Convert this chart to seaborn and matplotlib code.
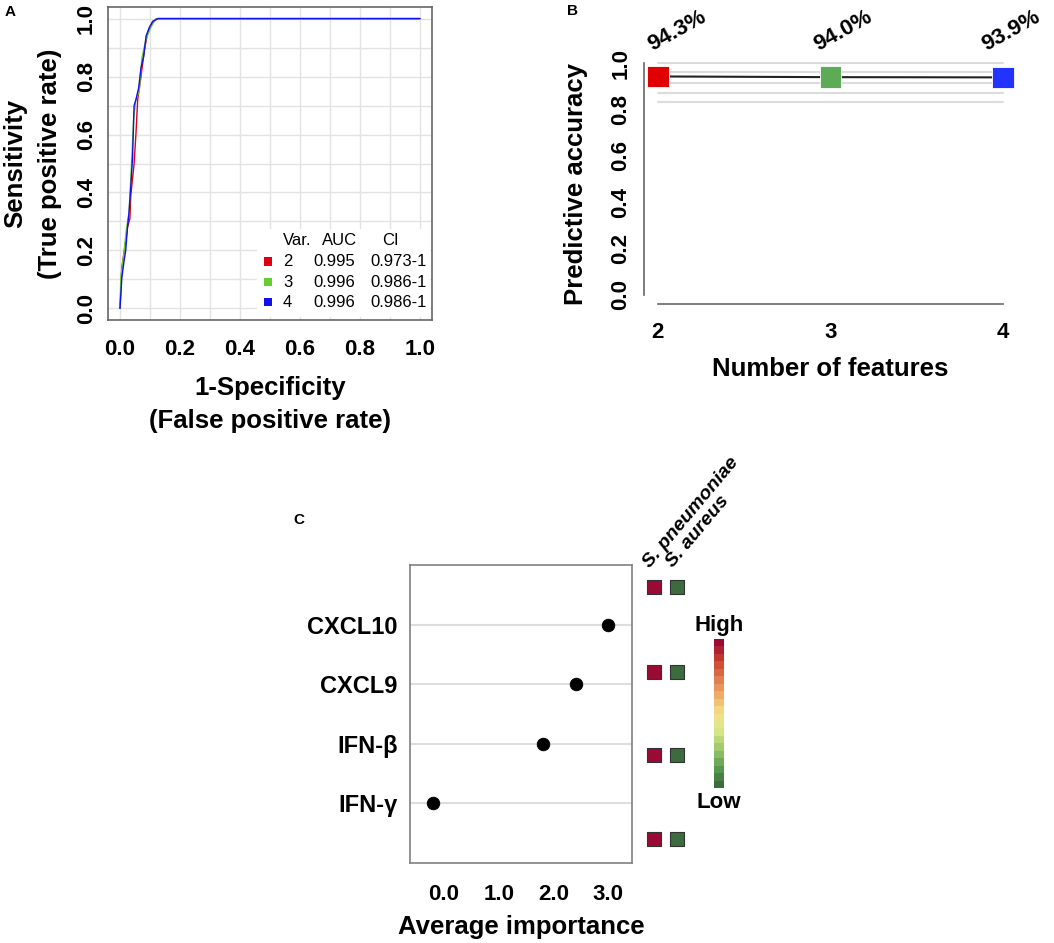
import numpy as np
import pandas as pd
import matplotlib
matplotlib.use("Agg")
import matplotlib.pyplot as plt
import seaborn as sns
from matplotlib.colors import LinearSegmentedColormap
from matplotlib.patches import Rectangle

# --- Panel A: ROC curves ---
roc_fpr_2 = [0.0, 0.006, 0.020, 0.025, 0.033, 0.036, 0.047, 0.053, 0.059, 0.070, 0.081, 0.092, 0.109, 0.126, 1.0]
roc_tpr_2 = [0.0, 0.140, 0.240, 0.280, 0.310, 0.390, 0.500, 0.600, 0.720, 0.800, 0.890, 0.950, 0.990, 1.000, 1.0]
roc_fpr_3 = [0.0, 0.003, 0.013, 0.021, 0.030, 0.038, 0.045, 0.053, 0.064, 0.073, 0.087, 0.103, 0.120, 1.0]
roc_tpr_3 = [0.0, 0.110, 0.190, 0.270, 0.330, 0.490, 0.650, 0.720, 0.750, 0.865, 0.930, 0.970, 1.000, 1.0]
roc_fpr_4 = [0.0, 0.006, 0.013, 0.019, 0.025, 0.030, 0.036, 0.042, 0.047, 0.053, 0.062, 0.070, 0.079, 0.087, 0.098, 0.109, 0.126, 1.0]
roc_tpr_4 = [0.0, 0.104, 0.160, 0.200, 0.280, 0.330, 0.420, 0.525, 0.700, 0.720, 0.760, 0.830, 0.870, 0.940, 0.970, 0.990, 1.000, 1.0]

leg_vars = ["2", "3", "4"]
leg_auc = ["0.995", "0.996", "0.996"]
leg_ci = ["0.973-1", "0.986-1", "0.986-1"]
roc_colors = ["#e00010", "#66cc33", "#1010ee"]

# --- Panel B: predictive accuracy ---
n_features = [2, 3, 4]
accuracy = [0.943, 0.940, 0.939]
acc_labels = ["94.3%", "94.0%", "93.9%"]
acc_band_lines = [1.0, 0.961, 0.913, 0.872, 0.831]
acc_colors = ["#e00000", "#5eab55", "#2233ff"]
label_dx = [-0.03, -0.07, -0.10]   # label nudges, as in the figure

# --- Panel C: feature importance + heatmap ---
markers = ["CXCL10", "CXCL9", "IFN-β", "IFN-γ"]
importance = [3.0, 2.41, 1.81, -0.2]
pathogens = ["S. pneumoniae", "S. aureus"]
hm_rows = [4.63, 3.20, 1.81, 0.40]
hm_values = [[1, 0], [1, 0], [1, 0], [1, 0]]

W, H = 1054, 943
sns.set_style("white")
plt.rcParams["font.family"] = ["Liberation Sans", "DejaVu Sans"]
plt.rcParams["font.weight"] = "bold"
plt.rcParams["text.color"] = "black"
plt.rcParams["axes.labelcolor"] = "black"
plt.rcParams["xtick.labelcolor"] = "black"
plt.rcParams["ytick.labelcolor"] = "black"
GRAY = "#666666"

fig = plt.figure(figsize=(W / 100, H / 100), dpi=100)


def px_axes(left, top, right, bottom):
    return fig.add_axes([left / W, 1 - bottom / H, (right - left) / W, (bottom - top) / H])


# ================= Panel A =================
axA = px_axes(108, 7, 432, 320)
roc_df = pd.concat([
    pd.DataFrame({"fpr": roc_fpr_2, "tpr": roc_tpr_2, "var": "2"}),
    pd.DataFrame({"fpr": roc_fpr_3, "tpr": roc_tpr_3, "var": "3"}),
    pd.DataFrame({"fpr": roc_fpr_4, "tpr": roc_tpr_4, "var": "4"}),
], ignore_index=True)
sns.lineplot(data=roc_df, x="fpr", y="tpr", hue="var", palette=roc_colors,
             sort=False, estimator=None, lw=1.0, legend=False, ax=axA)
axA.set_xlim(-0.04, 1.04)
axA.set_ylim(-0.04, 1.04)
ticks = [0.0, 0.2, 0.4, 0.6, 0.8, 1.0]
axA.set_xticks(ticks)
axA.set_yticks(ticks)
axA.set_xticks(np.arange(0, 1.01, 0.1), minor=True)
axA.set_yticks(np.arange(0, 1.01, 0.1), minor=True)
axA.set_xticklabels([f"{t:.1f}" for t in ticks])
axA.set_yticklabels([f"{t:.1f}" for t in ticks], rotation=90, va="center")
axA.grid(True, which="both", color="#e3e3e3", lw=1.0, zorder=0)
axA.set_axisbelow(True)
axA.tick_params(which="minor", length=0)
axA.tick_params(axis="x", which="major", direction="out", length=5, color=GRAY,
                labelsize=16, pad=9)
axA.tick_params(axis="y", which="major", direction="out", length=5, color=GRAY,
                labelsize=16, pad=3)
for s in axA.spines.values():
    s.set_color(GRAY)
    s.set_linewidth(1.2)
axA.set_xlabel("1-Specificity\n(False positive rate)", fontsize=18.5, fontweight="bold",
               linespacing=1.5)
axA.xaxis.set_label_coords(0.5, -0.178)
axA.set_ylabel("Sensitivity\n(True positive rate)", fontsize=18.5, fontweight="bold",
               linespacing=1.55)
axA.yaxis.set_label_coords(-0.142, 0.5)

# legend table
axA.add_patch(Rectangle((0.457, -0.03), 0.578, 0.305, facecolor="white",
                        edgecolor="none", zorder=3))
leg_y = [0.162, 0.090, 0.021]
axA.text(0.543, 0.234, "Var.", fontsize=12, fontweight="normal", va="center", zorder=4)
axA.text(0.673, 0.234, "AUC", fontsize=12, fontweight="normal", va="center", zorder=4)
axA.text(0.873, 0.234, "CI", fontsize=12, fontweight="normal", va="center", zorder=4)
axA.scatter([0.493] * 3, leg_y, c=roc_colors, marker="s", s=34, zorder=4, lw=0)
for yy, v, a, c in zip(leg_y, leg_vars, leg_auc, leg_ci):
    axA.text(0.543, yy, v, fontsize=12, fontweight="normal", va="center", zorder=4)
    axA.text(0.643, yy, a, fontsize=12, fontweight="normal", va="center", zorder=4)
    axA.text(0.833, yy, c, fontsize=12, fontweight="normal", va="center", zorder=4)

fig.text(10.5 / W, 1 - 12.5 / H, "A", fontsize=11, fontweight="bold", ha="center", va="center")

# ================= Panel B =================
axB = px_axes(644, 54, 1017, 304)
for yv in acc_band_lines:
    axB.plot([2, 4], [yv, yv], color="#dcdcdc", lw=1.5, zorder=1)
acc_df = pd.DataFrame({"features": n_features, "accuracy": accuracy})
sns.lineplot(data=acc_df, x="features", y="accuracy", color="#222222", lw=1.5,
             ax=axB, zorder=2)
sns.scatterplot(data=acc_df, x="features", y="accuracy", hue="features",
                palette=acc_colors, marker="s", s=240, edgecolor="white", lw=0.6,
                legend=False, ax=axB, zorder=3)
for xv, dx, lab in zip(n_features, label_dx, acc_labels):
    axB.text(xv + dx, 1.055, lab, fontsize=16, fontweight="bold", rotation=29,
             ha="left", va="baseline", rotation_mode="anchor")
axB.set_xlim(1.92, 4.08)
axB.set_ylim(-0.04, 1.04)
axB.set_xticks(n_features)
axB.set_yticks(ticks)
axB.set_yticklabels([f"{t:.1f}" for t in ticks], rotation=90, va="center")
sns.despine(ax=axB)
axB.spines["left"].set_bounds(0, 1)
axB.spines["bottom"].set_bounds(2, 4)
for s in ("left", "bottom"):
    axB.spines[s].set_color(GRAY)
    axB.spines[s].set_linewidth(1.2)
axB.tick_params(axis="x", direction="out", length=5, color=GRAY, labelsize=16, pad=8)
axB.tick_params(axis="y", direction="out", length=5, color=GRAY, labelsize=16, pad=4)
axB.set_xlabel("Number of features", fontsize=18.5, fontweight="bold")
axB.xaxis.set_label_coords(0.5, -0.21)
axB.set_ylabel("Predictive accuracy", fontsize=18.5, fontweight="bold")
axB.yaxis.set_label_coords(-0.15, 0.48)

fig.text(572 / W, 1 - 11 / H, "B", fontsize=11, fontweight="bold", ha="center", va="center")

# ================= Panel C =================
axC = px_axes(410, 565, 632, 863)
ypos = [4, 3, 2, 1]
for yv in ypos:
    axC.axhline(yv, color="#dedede", lw=1.5, zorder=1)
imp_df = pd.DataFrame({"marker": markers, "importance": importance, "pos": ypos})
sns.scatterplot(data=imp_df, x="importance", y="pos", color="black", s=80,
                edgecolor="black", ax=axC, zorder=3)
axC.set_xlim(-0.62, 3.43)
axC.set_ylim(0, 5)
axC.set_yticks(ypos)
axC.set_yticklabels(markers)
axC.set_xticks([0, 1, 2, 3])
axC.set_xticklabels(["0.0", "1.0", "2.0", "3.0"])
axC.tick_params(axis="y", length=0, labelsize=17, pad=9)
axC.tick_params(axis="x", direction="out", length=5, color=GRAY, labelsize=16, pad=10)
for s in axC.spines.values():
    s.set_color("#808080")
    s.set_linewidth(1.2)
axC.set_xlabel("Average importance", fontsize=18.5, fontweight="bold")
axC.xaxis.set_label_coords(0.5, -0.175)
axC.set_ylabel("")

fig.text(299 / W, 1 - 520 / H, "C", fontsize=11, fontweight="bold", ha="center", va="center")

# heatmap squares
hm_cmap = LinearSegmentedColormap.from_list(
    "lowhigh", ["#3b6b3e", "#5c9e50", "#9cc86a", "#d8e888", "#f3e08a",
                "#eeb066", "#e07b4e", "#c8402f", "#9a0a34"], N=20)
axH = px_axes(642, 565, 689, 863)
hm_df = pd.DataFrame({
    "col": [c + 0.5 for _ in hm_rows for c in range(len(pathogens))],
    "row": [r for r in hm_rows for _ in pathogens],
    "val": [v for row in hm_values for v in row],
})
sns.scatterplot(data=hm_df, x="col", y="row", hue="val", palette=hm_cmap, hue_norm=(0, 1),
                marker="s", s=100, edgecolor="#333333", lw=0.8, legend=False, ax=axH)
axH.set_xlim(0, 2)
axH.set_ylim(0, 5)
axH.axis("off")
for i, p in enumerate(pathogens):
    axH.text(i + 0.32, 4.95, p, fontsize=14, fontweight="bold", style="italic",
             rotation=50, ha="left", va="baseline", rotation_mode="anchor")

# colour key
axK = px_axes(714, 639, 724, 788)
key_levels = np.arange(20)[::-1].reshape(-1, 1)
sns.heatmap(key_levels, cmap=hm_cmap, cbar=False, xticklabels=False,
            yticklabels=False, ax=axK)
fig.text(719 / W, 1 - 626 / H, "High", fontsize=16, fontweight="bold", ha="center", va="center")
fig.text(719 / W, 1 - 802 / H, "Low", fontsize=16, fontweight="bold", ha="center", va="center")

fig.savefig("out.png", dpi=100)
